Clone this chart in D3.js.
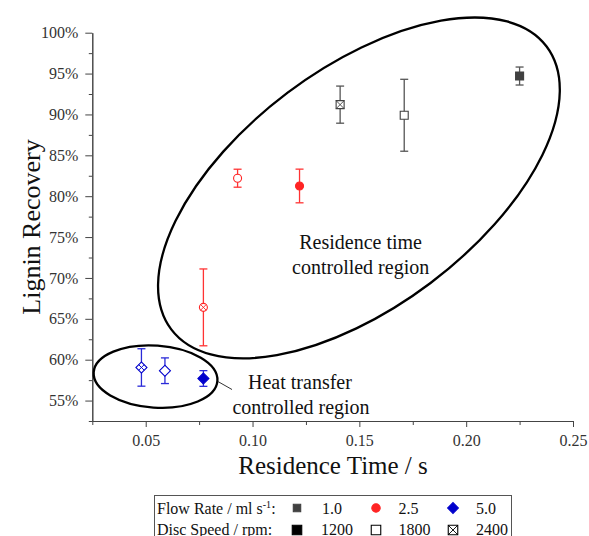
<!DOCTYPE html>
<html>
<head>
<meta charset="utf-8">
<script src="https://cdn.jsdelivr.net/npm/d3@7"></script>
<style>
  body { margin: 0; background: #fff; }
  svg text { font-family: "Liberation Serif", "Times New Roman", serif; }
</style>
</head>
<body>
<div id="chart"></div>
<script>
// values, one entry per run
const flowRate = [1.0, 1.0, 1.0, 2.5, 2.5, 2.5, 5.0, 5.0, 5.0];
const discSpeed = [1200, 1800, 2400, 1200, 1800, 2400, 1200, 1800, 2400];
const residenceTime = [0.225, 0.171, 0.141, 0.122, 0.093, 0.077, 0.077, 0.059, 0.048];
const recovery = [0.947, 0.899, 0.912, 0.8125, 0.822, 0.664, 0.577, 0.5865, 0.5905];
const recoveryErr = [0.011, 0.044, 0.0227, 0.0206, 0.011, 0.047, 0.0096, 0.0157, 0.0229];

const xTicks = [0.05, 0.10, 0.15, 0.20, 0.25];
const xMinorTicks = [0.025, 0.075, 0.125, 0.175, 0.225];
const yTicks = [0.55, 0.60, 0.65, 0.70, 0.75, 0.80, 0.85, 0.90, 0.95, 1.00];
const yMinorTicks = [0.525, 0.575, 0.625, 0.675, 0.725, 0.775, 0.825, 0.875, 0.925, 0.975];

const flowLabels = ['1.0', '2.5', '5.0'];
const speedLabels = ['1200', '1800', '2400'];

const width = 589, height = 536;
const font = '"Liberation Serif", "Times New Roman", serif';

const svg = d3.select('#chart').append('svg')
  .attr('width', width).attr('height', height)
  .style('font-family', font);

const x = d3.scaleLinear().domain([0.025, 0.25]).range([92.3, 573]);
const y = d3.scaleLinear().domain([0.525, 1.0]).range([421, 32.7]);

const color = d3.scaleOrdinal().domain([1.0, 2.5, 5.0]).range(['#404040', '#ff2424', '#0000cc']);
const barColor = d3.scaleOrdinal().domain([1.0, 2.5, 5.0]).range(['#555555', '#ff3333', '#2a2ad8']);
const shapeOf = d3.scaleOrdinal().domain([1.0, 2.5, 5.0]).range(['square', 'circle', 'diamond']);
const styleOf = d3.scaleOrdinal().domain([1200, 1800, 2400]).range(['filled', 'open', 'crossed']);

function styleAxis(g) {
  g.attr('font-family', null).attr('font-size', 16);
  g.selectAll('path, line').attr('stroke', '#444');
  g.selectAll('text').attr('fill', '#333').style('font-family', font);
}

// x axis (minor ticks first, then major ticks + labels)
svg.append('g').attr('transform', `translate(0,${y(0.525)})`)
  .call(d3.axisBottom(x).tickValues(xMinorTicks).tickSize(4).tickSizeOuter(0).tickFormat(''))
  .call(styleAxis);
svg.append('g').attr('transform', `translate(0,${y(0.525)})`)
  .call(d3.axisBottom(x).tickValues(xTicks).tickSize(6).tickSizeOuter(0).tickPadding(8).tickFormat(d3.format('.2f')))
  .call(styleAxis);

// y axis
svg.append('g').attr('transform', `translate(${x(0.025)},0)`)
  .call(d3.axisLeft(y).tickValues(yMinorTicks).tickSize(3.5).tickSizeOuter(0).tickFormat(''))
  .call(styleAxis);
svg.append('g').attr('transform', `translate(${x(0.025)},0)`)
  .call(d3.axisLeft(y).tickValues(yTicks).tickSize(7).tickSizeOuter(0).tickPadding(7).tickFormat(d3.format('.0%')))
  .call(styleAxis);

// axis titles
svg.append('text')
  .attr('x', 333).attr('y', 474)
  .attr('text-anchor', 'middle').attr('font-size', 25).attr('fill', '#111')
  .text('Residence Time / s');
svg.append('text')
  .attr('transform', 'translate(40,227) rotate(-90)')
  .attr('text-anchor', 'middle').attr('font-size', 26).attr('fill', '#111')
  .text('Lignin Recovery');

// marker helper: shape by flow rate, fill style by disc speed
function drawMarker(g, shape, style, col, size) {
  const h = size / 2;
  let path;
  if (shape === 'circle') path = d3.symbol(d3.symbolCircle, Math.PI * h * h)();
  else path = d3.symbol(d3.symbolSquare, size * size)();
  if (shape === 'diamond') g.attr('transform', g.attr('transform') + ' rotate(45)');
  g.append('path').attr('d', path)
    .attr('fill', style === 'filled' ? col : '#fff')
    .attr('stroke', col).attr('stroke-width', 1.1);
  if (style === 'crossed') {
    let c;
    if (shape === 'square') c = `M${-h},${-h}L${h},${h}M${-h},${h}L${h},${-h}`;
    else if (shape === 'circle') { const k = h * 0.707; c = `M${-k},${-k}L${k},${k}M${-k},${k}L${k},${-k}`; }
    else c = `M${-h},0L${h},0M0,${-h}L0,${h}`;
    g.append('path').attr('d', c).attr('stroke', col).attr('stroke-width', 0.9).attr('fill', 'none');
  }
}

const points = residenceTime.map((t, i) => ({
  t, r: recovery[i], e: recoveryErr[i], flow: flowRate[i], speed: discSpeed[i]
}));

// error bars
const bars = svg.append('g').selectAll('g').data(points).enter().append('g')
  .attr('stroke', d => barColor(d.flow)).attr('stroke-width', 1.3);
bars.append('line')
  .attr('x1', d => x(d.t)).attr('x2', d => x(d.t))
  .attr('y1', d => y(d.r - d.e)).attr('y2', d => y(d.r + d.e));
bars.append('line')
  .attr('x1', d => x(d.t) - 4).attr('x2', d => x(d.t) + 4)
  .attr('y1', d => y(d.r + d.e)).attr('y2', d => y(d.r + d.e));
bars.append('line')
  .attr('x1', d => x(d.t) - 4).attr('x2', d => x(d.t) + 4)
  .attr('y1', d => y(d.r - d.e)).attr('y2', d => y(d.r - d.e));

// markers
svg.append('g').selectAll('g').data(points).enter().append('g')
  .attr('transform', d => `translate(${x(d.t)},${y(d.r)})`)
  .each(function (d) {
    const s = shapeOf(d.flow) === 'diamond' ? 7.8 : 8;
    drawMarker(d3.select(this), shapeOf(d.flow), styleOf(d.speed), color(d.flow), s);
  });

// region annotations
const ann = svg.append('g').attr('fill', 'none').attr('stroke', '#000').attr('stroke-width', 2.3);
const bigC = [x(0.1498), y(0.8101)];
ann.append('ellipse')
  .attr('cx', bigC[0]).attr('cy', bigC[1]).attr('rx', 235).attr('ry', 119)
  .attr('transform', `rotate(-37,${bigC[0]},${bigC[1]})`);
const smallC = [x(0.0546), y(0.5793)];
ann.append('ellipse')
  .attr('cx', smallC[0]).attr('cy', smallC[1]).attr('rx', 62).attr('ry', 31)
  .attr('transform', `rotate(4,${smallC[0]},${smallC[1]})`);
svg.append('line')
  .attr('x1', x(0.0838)).attr('y1', y(0.5733))
  .attr('x2', x(0.0904)).attr('y2', y(0.5635))
  .attr('stroke', '#333').attr('stroke-width', 1);

const notes = [
  { text: 'Residence time', t: 0.1506, r: 0.7353 },
  { text: 'controlled region', t: 0.1506, r: 0.7047 },
  { text: 'Heat transfer', t: 0.1222, r: 0.564 },
  { text: 'controlled region', t: 0.1227, r: 0.5334 }
];
svg.append('g').selectAll('text').data(notes).enter().append('text')
  .attr('x', d => x(d.t)).attr('y', d => y(d.r))
  .attr('text-anchor', 'middle').attr('font-size', 20).attr('fill', '#111')
  .text(d => d.text);

// legend
const leg = svg.append('g').attr('font-size', 16).attr('fill', '#111');
leg.append('rect').attr('x', 154.5).attr('y', 495.5).attr('width', 357).attr('height', 60)
  .attr('fill', '#fff').attr('stroke', '#555').attr('stroke-width', 1);
const t1 = leg.append('text').attr('x', 157).attr('y', 513.5);
t1.append('tspan').text('Flow Rate / ml s');
t1.append('tspan').attr('font-size', 10).attr('dy', -6).text('-1');
t1.append('tspan').attr('dy', 6).text(':');
leg.append('text').attr('x', 157).attr('y', 534.5).text('Disc Speed / rpm:');

const markX = [297, 376, 453];
const labelX = [322, 398.5, 476];
[1.0, 2.5, 5.0].forEach((f, i) => {
  const g = leg.append('g').attr('transform', `translate(${markX[i]},508)`);
  drawMarker(g, shapeOf(f), 'filled', color(f), shapeOf(f) === 'circle' ? 8.4 : (shapeOf(f) === 'diamond' ? 7.6 : 7.4));
  leg.append('text').attr('x', labelX[i]).attr('y', 513.5).text(flowLabels[i]);
});
[1200, 1800, 2400].forEach((s, i) => {
  const g = leg.append('g').attr('transform', `translate(${markX[i]},${530})`);
  drawMarker(g, 'square', styleOf(s), '#000', 9.5);
  leg.append('text').attr('x', labelX[i] - (i === 0 ? 1 : 0)).attr('y', 534.5).text(speedLabels[i]);
});
</script>
</body>
</html>
